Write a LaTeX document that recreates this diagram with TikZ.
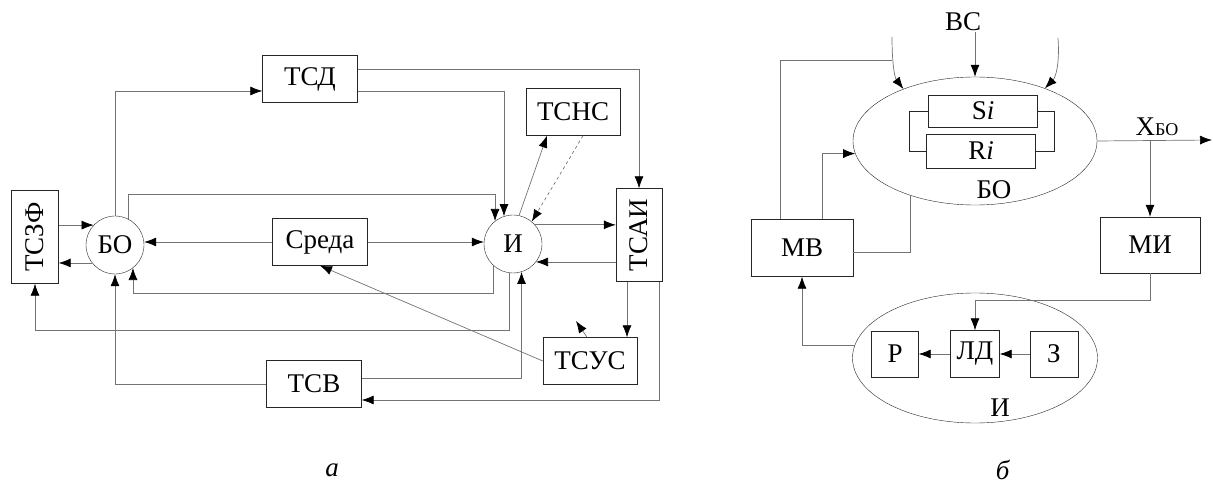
\documentclass[tikz,border=0pt]{standalone}
\usepackage{fontspec}
\setmainfont{Liberation Serif}
\usetikzlibrary{arrows.meta,shapes.geometric}

\begin{document}
\begin{tikzpicture}[
  x=1pt, y=-1pt,
  box/.style={draw=black!85, thin, inner sep=0pt, minimum height=47pt, font=\fontsize{27}{31}\selectfont},
  circ/.style={draw=black!85, thin, circle, minimum size=58pt, inner sep=0pt, font=\fontsize{27}{31}\selectfont},
  oval/.style={draw=black!85, thin, ellipse, inner sep=0pt},
  lbl/.style={inner sep=1pt, font=\fontsize{27}{31}\selectfont},
  arrow/.style={-{Latex[length=12pt,width=9pt,color=black]}, black!55, line width=0.7pt},
  link/.style={black!55, line width=0.7pt}
]
\useasboundingbox (0,0) rectangle (1213,486);

% diagram a
\node[box, minimum width=95pt] (tsd) at (310,79) {ТСД};
\node[box, minimum width=94pt] (tsns) at (573,112) {ТСНС};
\node[box, minimum width=46pt, minimum height=93pt] (tsai) at (639,235) {\rotatebox{90}{ТСАИ}};
\node[box, minimum width=94pt] (tsus) at (590,361) {ТСУС};
\node[box, minimum width=95pt] (tsv) at (314,384) {ТСВ};
\node[box, minimum width=95pt] (sreda) at (320,242) {Среда};
\node[circ] (bo) at (115,245) {БО};
\node[circ] (ii) at (513,244) {И};
\node[box, minimum width=47pt, minimum height=93pt] (tszf) at (35,237) {\rotatebox{90}{ТСЗФ}};
\coordinate (stubend) at (576,321);

\draw[arrow] (bo.north) |- ([yshift=-12pt]tsd.west);
\draw[arrow] ([yshift=-12pt]tsd.east) -| (ii.108);
\draw[arrow] ([yshift=10pt]tsd.east) -| (tsai.north);
\draw[arrow] (ii.78) -- ([xshift=-26pt]tsns.south);
\draw[arrow, dashed] ([xshift=10pt]tsns.south) -- (ii.50);
\draw[arrow] (bo.62) -- ++(0,-25) -| (ii.128);
\draw[arrow] (sreda.west) -- (sreda.west -| bo.east);
\draw[arrow] (sreda.east) -- (sreda.east -| ii.west);
\draw[arrow] (bo.218) -- (bo.218 -| tszf.east);
\draw[arrow] (bo.137 -| tszf.east) -- (bo.137);
\draw[arrow] (tsv.west) -| (bo.south);
\draw[arrow] (ii.229) -- ++(0,27) -| (bo.308);
\draw[arrow] (ii.262) -- ++(0,57) -| (tszf.south);
\draw[arrow] ([yshift=6pt]tsv.east) -| (ii.287);
\draw[arrow] (tsus.west) -- (sreda.south);
\draw[arrow] (ii.41) -- (ii.41 -| tsai.west);
\draw[arrow] (ii.-38 -| tsai.west) -- (ii.-38);
\draw[arrow] ([xshift=-12pt]tsai.south) -- ([xshift=-12pt]tsai.south |- tsus.north);
\draw[arrow] ([xshift=20pt]tsai.south) |- ([yshift=-16pt]tsv.east);
\draw[arrow] ([xshift=-3pt]tsus.north) -- (stubend);

\node[lbl] (capa) at (332,470) {\textit{а}};

% diagram b
\node[lbl] (vs) at (963,22) {ВС};
\node[oval, minimum width=244pt, minimum height=128pt] (boe) at (975,141) {};
\node[box, minimum width=109pt, minimum height=32pt] (si) at (983,111) {S\textit{i}};
\node[box, minimum width=109pt, minimum height=34pt] (ri) at (981,151) {R\textit{i}};
\node[lbl] (bolbl) at (994,190) {БО};
\node[lbl] (xbo) at (1157,127) {X{\fontsize{18}{21}\selectfont БО}};
\node[box, minimum width=100pt, minimum height=56pt] (mi) at (1150,245) {МИ};
\node[box, minimum width=102pt, minimum height=57pt] (mv) at (802,248) {МВ};
\node[oval, minimum width=245pt, minimum height=130pt] (ie) at (975,358) {};
\node[box, minimum width=47pt, minimum height=46pt] (rr) at (895,354) {Р};
\node[box, minimum width=49pt, minimum height=47pt] (ld) at (975,354) {ЛД};
\node[box, minimum width=48pt, minimum height=46pt] (zz) at (1054,354) {З};
\node[lbl] (ilbl) at (1000,408) {И};
\coordinate (vsl) at (892,37);
\coordinate (vsr) at (1058,38);
\coordinate (mvjoin) at (892,60);
\coordinate (xout) at (1212,140);

\draw[arrow] (vs.south -| boe.north) -- (boe.north);
\draw[arrow] (vsl) .. controls (892,66) and (895,78) .. (boe.144);
\draw[arrow] (vsr) .. controls (1060,66) and (1055,78) .. (boe.37);
\draw[link] ([xshift=-22pt]mv.north) |- (mvjoin);
\draw[arrow] ([xshift=20pt]mv.north) |- (boe.186);
\draw[link, black!85] (si.west) -- ++(-19,0) |- (ri.west);
\draw[link, black!85] (si.east) -- ++(17,0) |- (ri.east);
\draw[arrow] (boe.east) -- (xout);
\draw[arrow] (boe.east -| mi.north) -- (mi.north);
\draw[link] (boe.220) |- ([yshift=-4pt]mv.east);
\draw[arrow] (mi.south) -- ++(0,27) -| (ld.north);
\draw[arrow] (zz.west) -- (ld.east);
\draw[arrow] (ld.west) -- (rr.east);
\draw[arrow] (ie.174) -| (mv.south);

\node[lbl] (capb) at (1003,470) {\textit{б}};
\end{tikzpicture}
\end{document}
